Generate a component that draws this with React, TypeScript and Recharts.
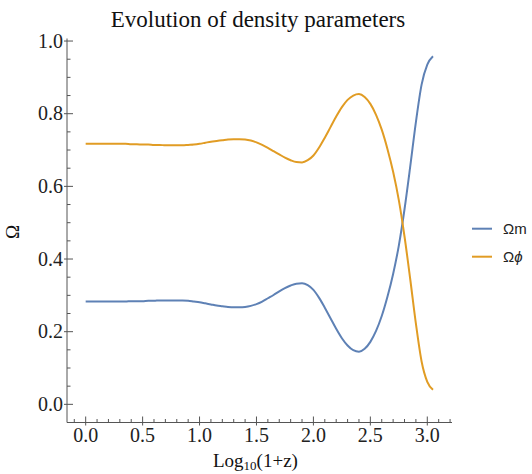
import { LineChart, Line, XAxis, YAxis } from 'recharts'

const xs = [
  0, 0.05, 0.1, 0.15, 0.2, 0.25, 0.3, 0.35, 0.4, 0.45, 0.5, 0.55, 0.6, 0.65, 0.7, 0.75,
  0.8, 0.85, 0.9, 0.95, 1.0, 1.05, 1.1, 1.15, 1.2, 1.25, 1.3, 1.35, 1.4, 1.45, 1.5, 1.55,
  1.6, 1.65, 1.7, 1.75, 1.8, 1.85, 1.9, 1.95, 2.0, 2.05, 2.1, 2.15, 2.2, 2.25, 2.3, 2.35,
  2.4, 2.45, 2.5, 2.55, 2.6, 2.65, 2.7, 2.75, 2.8, 2.85, 2.9, 2.95, 3.0, 3.05,
]

const omegaM = [
  0.283, 0.283, 0.283, 0.283, 0.283, 0.283, 0.283, 0.283, 0.284, 0.284, 0.284, 0.285, 0.285, 0.286, 0.286, 0.286,
  0.286, 0.286, 0.285, 0.283, 0.281, 0.278, 0.275, 0.272, 0.27, 0.268, 0.267, 0.267, 0.268, 0.271, 0.276, 0.283,
  0.292, 0.301, 0.311, 0.32, 0.327, 0.332, 0.333, 0.328, 0.315, 0.293, 0.266, 0.237, 0.208, 0.182, 0.162, 0.149,
  0.145, 0.153, 0.172, 0.202, 0.243, 0.296, 0.359, 0.437, 0.537, 0.654, 0.777, 0.88, 0.935, 0.958,
]

const omegaPhi = [
  0.717, 0.717, 0.717, 0.717, 0.717, 0.717, 0.717, 0.717, 0.716, 0.716, 0.715, 0.715, 0.714, 0.714, 0.713, 0.713,
  0.713, 0.713, 0.714, 0.715, 0.717, 0.72, 0.723, 0.725, 0.727, 0.729, 0.73, 0.73, 0.729, 0.726, 0.721, 0.714,
  0.706, 0.697, 0.688, 0.679, 0.672, 0.667, 0.666, 0.672, 0.685, 0.707, 0.734, 0.763, 0.792, 0.818, 0.838, 0.85,
  0.854, 0.846, 0.827, 0.797, 0.756, 0.703, 0.64, 0.562, 0.462, 0.345, 0.222, 0.118, 0.062, 0.04,
]

const xTicks = [
  -0.1, 0, 0.1, 0.2, 0.3, 0.4, 0.5, 0.6, 0.7, 0.8, 0.9, 1.0, 1.1, 1.2, 1.3, 1.4, 1.5, 1.6,
  1.7, 1.8, 1.9, 2.0, 2.1, 2.2, 2.3, 2.4, 2.5, 2.6, 2.7, 2.8, 2.9, 3.0, 3.1, 3.2,
]
const xMajor = [0, 0.5, 1.0, 1.5, 2.0, 2.5, 3.0]

const yTicks = [
  0, 0.05, 0.1, 0.15, 0.2, 0.25, 0.3, 0.35, 0.4, 0.45, 0.5, 0.55, 0.6, 0.65, 0.7, 0.75,
  0.8, 0.85, 0.9, 0.95, 1.0,
]
const yMajor = [0, 0.2, 0.4, 0.6, 0.8, 1.0]

const seriesNames = ['Ωm', 'Ωϕ']
const COLORS = ['#5e81b5', '#e19c24']

const data = xs.map((x, i) => ({ x, m: omegaM[i], phi: omegaPhi[i] }))

const FRAME = '#555'
const SERIF = '"Liberation Serif", "DejaVu Serif", serif'
const SANS = '"Liberation Sans", Arial, sans-serif'

const isMajor = (v: number, majors: number[]) => majors.some((m) => Math.abs(m - v) < 1e-6)

const LeftTick = ({ x, y, payload }: any) => {
  const major = isMajor(payload.value, yMajor)
  return (
    <g>
      <line x1={major ? x - 3 : x} x2={x + (major ? 6 : 3.5)} y1={y} y2={y} stroke={FRAME} />
      {major && (
        <text x={x - 4} y={y + 6.5} textAnchor="end" fontFamily={SERIF} fontSize={20} fill="#222">
          {payload.value.toFixed(1)}
        </text>
      )}
    </g>
  )
}

const RightTick = ({ x, y, payload }: any) => {
  const major = isMajor(payload.value, yMajor)
  return <line x1={major ? x + 3 : x} x2={x - (major ? 6 : 3.5)} y1={y} y2={y} stroke={FRAME} />
}

const BottomTick = ({ x, y, payload }: any) => {
  const major = isMajor(payload.value, xMajor)
  return (
    <g>
      <line y1={major ? y + 3 : y} y2={y - (major ? 6 : 3.5)} x1={x} x2={x} stroke={FRAME} />
      {major && (
        <text x={x} y={y + 19} textAnchor="middle" fontFamily={SERIF} fontSize={20} fill="#222">
          {payload.value.toFixed(1)}
        </text>
      )}
    </g>
  )
}

const TopTick = ({ x, y, payload }: any) => {
  const major = isMajor(payload.value, xMajor)
  return <line y1={major ? y - 3 : y} y2={y + (major ? 6 : 3.5)} x1={x} x2={x} stroke={FRAME} />
}

export default function App() {
  return (
    <div style={{ position: 'absolute', left: 0, top: 0, width: 532, height: 474, background: '#fff' }}>
      <LineChart width={532} height={474} data={data} margin={{ top: 38.5, right: 80, bottom: 11.5, left: 0 }}>
        <XAxis
          xAxisId="b"
          dataKey="x"
          type="number"
          domain={[-0.164, 3.217]}
          allowDataOverflow
          ticks={xTicks}
          interval={0}
          height={40}
          tickSize={0}
          tickMargin={0}
          tickLine={false}
          axisLine={{ stroke: FRAME }}
          tick={<BottomTick />}
        />
        <XAxis
          xAxisId="t"
          orientation="top"
          dataKey="x"
          type="number"
          domain={[-0.164, 3.217]}
          allowDataOverflow
          ticks={xTicks}
          interval={0}
          height={0}
          tickSize={0}
          tickMargin={0}
          tickLine={false}
          axisLine={{ stroke: FRAME }}
          tick={<TopTick />}
        />
        <YAxis
          yAxisId="l"
          type="number"
          domain={[-0.05, 1.007]}
          allowDataOverflow
          ticks={yTicks}
          interval={0}
          width={67}
          tickSize={0}
          tickMargin={0}
          tickLine={false}
          axisLine={{ stroke: FRAME }}
          tick={<LeftTick />}
        />
        <YAxis
          yAxisId="r"
          orientation="right"
          type="number"
          domain={[-0.05, 1.007]}
          allowDataOverflow
          ticks={yTicks}
          interval={0}
          width={0}
          tickSize={0}
          tickMargin={0}
          tickLine={false}
          axisLine={{ stroke: FRAME }}
          tick={<RightTick />}
        />
        <Line
          xAxisId="b"
          yAxisId="l"
          type="monotone"
          dataKey="m"
          stroke={COLORS[0]}
          strokeWidth={2}
          dot={false}
          isAnimationActive={false}
        />
        <Line
          xAxisId="b"
          yAxisId="l"
          type="monotone"
          dataKey="phi"
          stroke={COLORS[1]}
          strokeWidth={2}
          dot={false}
          isAnimationActive={false}
        />
      </LineChart>

      <svg
        width={532}
        height={474}
        style={{ position: 'absolute', left: 0, top: 0, pointerEvents: 'none' }}
      >
        <text x={258} y={27} textAnchor="middle" fontFamily={SERIF} fontSize={23} fill="#111">
          Evolution of density parameters
        </text>
        <text x={213} y={466.5} fontFamily={SERIF} fontSize={19} fill="#111">
          Log<tspan dy={3.5} fontSize={13}>10</tspan>
          <tspan dy={-3.5}>(1+z)</tspan>
        </text>
        <text
          transform="translate(18.5,232) rotate(-90)"
          textAnchor="middle"
          fontFamily={SERIF}
          fontSize={19}
          fill="#111"
        >
          Ω
        </text>
        {seriesNames.map((name, i) => (
          <g key={name}>
            <line x1={472} x2={492} y1={228.7 + i * 28} y2={228.7 + i * 28} stroke={COLORS[i]} strokeWidth={2} />
            <text x={503} y={234 + i * 28} fontFamily={SANS} fontSize={15} fill="#222">
              {name.slice(0, 1)}
              {i === 1 ? <tspan fontStyle="italic">{name.slice(1)}</tspan> : name.slice(1)}
            </text>
          </g>
        ))}
      </svg>
    </div>
  )
}
